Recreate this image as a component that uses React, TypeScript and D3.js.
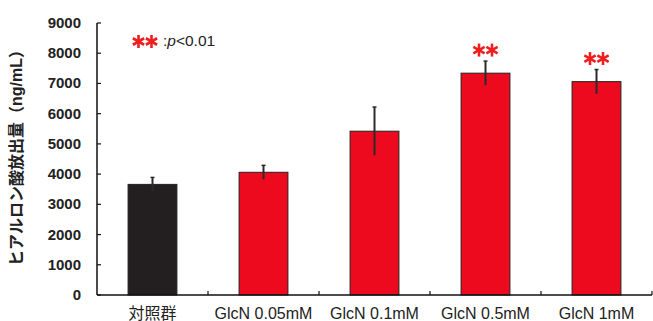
import * as d3 from "d3";

const categories = ["対照群", "GlcN 0.05mM", "GlcN 0.1mM", "GlcN 0.5mM", "GlcN 1mM"];
const means = [3660, 4060, 5420, 7340, 7060];
const errors = [230, 230, 800, 400, 400];
const significant = [false, false, false, true, true];
const yTicks = [0, 1000, 2000, 3000, 4000, 5000, 6000, 7000, 8000, 9000];

const W = 653;
const H = 321;
const left = 97;
const right = 652;
const top = 23;
const bottom = 295;

// six-spoke asterisk, like the ones in the figure
const Star = ({ cx, cy, r = 6.5 }: { cx: number; cy: number; r?: number }) => {
  const angles = [90, 30, -30];
  return (
    <g stroke="#f01e1e" strokeWidth={2.6} strokeLinecap="butt">
      {angles.map((a) => {
        const rad = (a * Math.PI) / 180;
        const dx = Math.cos(rad) * r;
        const dy = Math.sin(rad) * r;
        return <line key={a} x1={cx - dx} y1={cy - dy} x2={cx + dx} y2={cy + dy} />;
      })}
    </g>
  );
};

const Stars = ({ cx, cy }: { cx: number; cy: number }) => (
  <g>
    <Star cx={cx - 6.5} cy={cy} />
    <Star cx={cx + 6.5} cy={cy} />
  </g>
);

export default function App() {
  const x = d3.scaleBand().domain(categories).range([left, right]).padding(0);
  const y = d3.scaleLinear().domain([0, 9000]).range([bottom, top]);
  const barW = x.bandwidth() * 0.44;
  const font = "Arial, 'Liberation Sans', 'Noto Sans CJK JP', sans-serif";

  return (
    <svg width={W} height={H} style={{ position: "absolute", left: 0, top: 0, background: "#fff" }}>
      {/* bars */}
      {categories.map((c, i) => {
        const cx = x(c)! + x.bandwidth() / 2;
        return (
          <g key={c}>
            <rect
              x={cx - barW / 2}
              y={y(means[i])}
              width={barW}
              height={bottom - y(means[i])}
              fill={i === 0 ? "#231f20" : "#ee0a1e"}
              stroke="#222"
              strokeWidth={1}
            />
            <line x1={cx} x2={cx} y1={y(means[i] + errors[i])} y2={y(means[i] - errors[i])} stroke="#2a2a2a" strokeWidth={2} />
            <line x1={cx - 2} x2={cx + 2} y1={y(means[i] + errors[i])} y2={y(means[i] + errors[i])} stroke="#2a2a2a" strokeWidth={1.5} />
            {significant[i] && <Stars cx={cx} cy={y(means[i] + errors[i]) - 11} />}
            <text x={cx} y={319} textAnchor="middle" fontSize={16} fontFamily={font} fill="#222">
              {c}
            </text>
          </g>
        );
      })}

      {/* y axis */}
      <line x1={left} x2={left} y1={top} y2={bottom} stroke="#111" strokeWidth={1.5} />
      {yTicks.map((t) => (
        <g key={t}>
          <line x1={left} x2={left + 4} y1={y(t)} y2={y(t)} stroke="#111" strokeWidth={1.2} />
          <text x={81} y={y(t) + 5} textAnchor="end" fontSize={15} fontWeight="bold" fontFamily={font} fill="#222">
            {t}
          </text>
        </g>
      ))}

      {/* x axis */}
      <line x1={left} x2={right} y1={bottom} y2={bottom} stroke="#111" strokeWidth={1.5} />
      {categories.map((c) => (
        <line key={c} x1={x(c)! + x.bandwidth()} x2={x(c)! + x.bandwidth()} y1={bottom} y2={bottom - 4} stroke="#111" strokeWidth={1.2} />
      ))}

      {/* legend */}
      <Stars cx={145} cy={41.5} />
      <text x={163} y={46} fontSize={15.5} fontFamily={font} fill="#222">
        :<tspan fontStyle="italic">p</tspan>&lt;0.01
      </text>

      {/* y label */}
      <text
        transform="translate(22,154) rotate(-90)"
        textAnchor="middle"
        fontSize={16}
        fontWeight="bold"
        fontFamily={font}
        fill="#222"
      >
        ヒアルロン酸放出量（ng/mL）
      </text>
    </svg>
  );
}
